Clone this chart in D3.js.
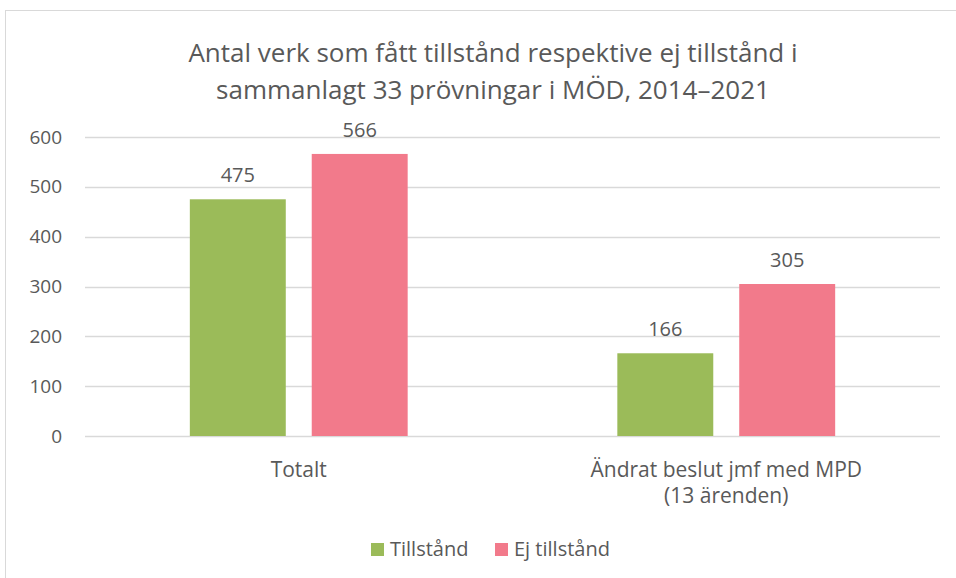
<!DOCTYPE html>
<html>
<head>
<meta charset="utf-8">
<script src="https://cdn.jsdelivr.net/npm/d3@7"></script>
<style>
  body { margin: 0; background: #fff; }
  text { font-family: "Open Sans", "Noto Sans", sans-serif; fill: #595959; }
</style>
</head>
<body>
<div id="chart"></div>
<script>
const categories = ['Totalt', 'Ändrat beslut jmf med MPD\n(13 ärenden)'];
const seriesNames = ['Tillstånd', 'Ej tillstånd'];
const tillstand = [475, 166];
const ejTillstand = [566, 305];
const yTicks = [0, 100, 200, 300, 400, 500, 600];
const colors = ['#9BBB59', '#F27A8B'];

const width = 956, height = 578;
const plot = { left: 85, right: 940, top: 137, bottom: 436 };

const svg = d3.select('#chart').append('svg')
    .attr('width', width)
    .attr('height', height);

// ram runt diagrammet
svg.append('rect')
    .attr('x', 5.5).attr('y', 10.5)
    .attr('width', 1000).attr('height', 1000)
    .attr('fill', 'none')
    .attr('stroke', '#d9d9d9');

// titel
const title = svg.append('text')
    .attr('text-anchor', 'middle')
    .style('font-size', '26px');
title.append('tspan').attr('x', 493).attr('y', 62)
    .text('Antal verk som fått tillstånd respektive ej tillstånd i');
title.append('tspan').attr('x', 493).attr('y', 99)
    .text('sammanlagt 33 prövningar i MÖD, 2014–2021');

const x = d3.scaleBand()
    .domain(categories)
    .range([plot.left, plot.right]);

const x1 = d3.scaleBand()
    .domain(seriesNames)
    .range([0, x.bandwidth()])
    .paddingInner(0.213)
    .paddingOuter(0.86);

const y = d3.scaleLinear()
    .domain([0, 600])
    .range([plot.bottom, plot.top]);

// rutnät
svg.append('g')
    .selectAll('line')
    .data(yTicks)
    .enter().append('line')
    .attr('x1', plot.left).attr('x2', plot.right)
    .attr('y1', d => Math.round(y(d)) + 0.5)
    .attr('y2', d => Math.round(y(d)) + 0.5)
    .attr('stroke', '#d9d9d9')
    .attr('stroke-width', 1.3);

// y-axel
const yAxis = svg.append('g')
    .attr('transform', `translate(${plot.left}, 0)`)
    .call(d3.axisLeft(y).tickValues(yTicks).tickSize(0).tickPadding(23));
yAxis.select('.domain').remove();
yAxis.selectAll('text')
    .style('font-size', '19px')
    .style('fill', '#595959')
    .style('font-family', '"Open Sans", sans-serif');

// staplar
const rows = categories.map((c, i) => ({ cat: c, values: [tillstand[i], ejTillstand[i]] }));

const groups = svg.selectAll('.grupp')
    .data(rows)
    .enter().append('g')
    .attr('class', 'grupp')
    .attr('transform', d => `translate(${x(d.cat)}, 0)`);

const bars = groups.selectAll('g')
    .data(d => d.values.map((v, j) => ({ name: seriesNames[j], value: v, idx: j })))
    .enter().append('g');

bars.append('rect')
    .attr('x', d => x1(d.name))
    .attr('width', x1.bandwidth())
    .attr('y', d => y(d.value))
    .attr('height', d => y(0) - y(d.value))
    .attr('fill', d => colors[d.idx]);

bars.append('text')
    .attr('x', d => x1(d.name) + x1.bandwidth() / 2)
    .attr('y', d => y(d.value) - 17)
    .attr('text-anchor', 'middle')
    .style('font-size', '20px')
    .text(d => d.value);

// kategorietiketter
const catLabels = svg.selectAll('.kat')
    .data(categories)
    .enter().append('text')
    .attr('class', 'kat')
    .attr('text-anchor', 'middle')
    .style('font-size', '21px');
catLabels.each(function(d) {
    const lines = d.split('\n');
    const t = d3.select(this);
    lines.forEach((l, i) => {
        t.append('tspan')
            .attr('x', x(d) + x.bandwidth() / 2)
            .attr('y', 477 + i * 26)
            .text(l);
    });
});

// förklaring
const legend = svg.append('g');
const legendX = [371, 495];
seriesNames.forEach((n, i) => {
    legend.append('rect')
        .attr('x', legendX[i]).attr('y', 543)
        .attr('width', 13).attr('height', 13)
        .attr('fill', colors[i]);
    legend.append('text')
        .attr('x', legendX[i] + 19).attr('y', 556)
        .style('font-size', '20px')
        .text(n);
});
</script>
</body>
</html>
